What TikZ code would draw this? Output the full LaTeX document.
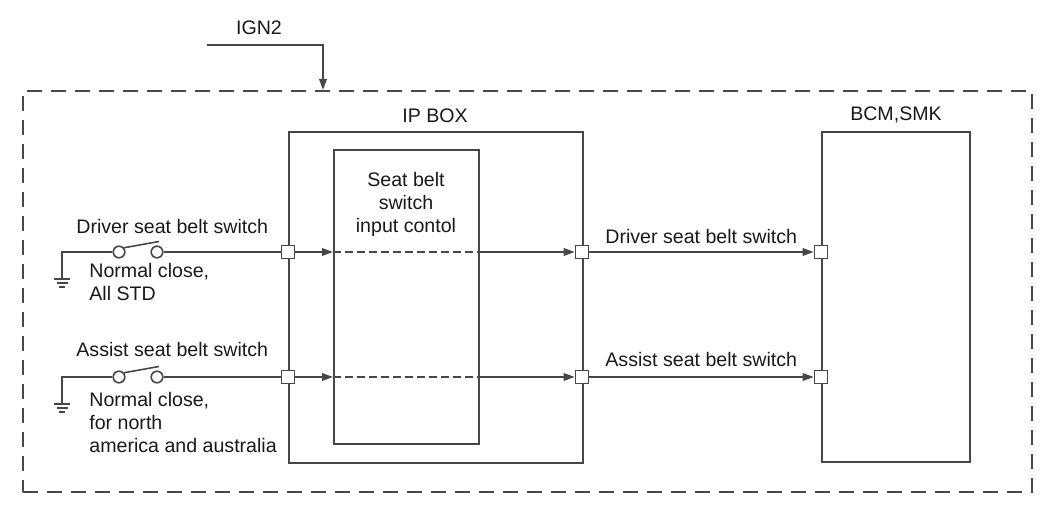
\documentclass[tikz,border=0pt]{standalone}
\usepackage{fontspec}
\setmainfont{Liberation Sans}
\usetikzlibrary{arrows.meta}
\begin{document}
\begin{tikzpicture}[x=0.5pt,y=-0.5pt,
  line/.style={draw=black!72, line width=0.8pt},
  box/.style={line, rectangle, inner sep=0pt, anchor=north west},
  port/.style={line, fill=white, rectangle, minimum size=6.5pt, inner sep=0pt},
  contact/.style={line, fill=white, circle, minimum size=5.8pt, inner sep=0pt},
  arr/.style={line, -{Triangle[length=5.5pt,width=3.8pt]}},
  lbl/.style={inner sep=0pt, font=\fontsize{9.8}{11.5}\selectfont, text=black!90},
  outerdash/.style={line, dash pattern=on 7.5pt off 4.5pt},
  innerdash/.style={line, dash pattern=on 4pt off 2pt}]
\useasboundingbox (0,0) rectangle (1051,506);

% frames
\node[box, outerdash, minimum width=504.5pt, minimum height=200.5pt] (frame) at (22,90) {};
\node[box, minimum width=147pt, minimum height=165.5pt] (ip) at (288,131) {};
\node[box, minimum width=72.5pt, minimum height=147pt] (ctl) at (333,149) {};
\node[box, minimum width=74pt, minimum height=165pt] (bcm) at (821,131) {};

% titles
\node[lbl, anchor=base] (igntitle) at (259,35) {IGN2};
\node[lbl, anchor=base] (iptitle) at (435,123) {IP BOX};
\node[lbl, anchor=base] (bcmtitle) at (896,121) {BCM,SMK};
\node[lbl, anchor=north, align=center] (ctltext) at (406,172) {Seat belt\\switch\\input contol};

% IGN2 feed
\coordinate (ignstart) at (207,45);
\coordinate (ignend) at (323,90);
\draw[arr] (ignstart) -| (ignend);

% ports
\node[port] (pL1) at (288,252) {};
\node[port] (pR1) at (582,252) {};
\node[port] (pB1) at (821,252) {};
\node[port] (pL2) at (288,377) {};
\node[port] (pR2) at (582,377) {};
\node[port] (pB2) at (821,377) {};

% signal paths
\draw[arr] (pL1) -- (ctl.west |- pL1);
\draw[innerdash] (ctl.west |- pL1) -- (ctl.east |- pL1);
\draw[arr] (ctl.east |- pL1) -- (pR1);
\draw[arr] (pR1) -- (pB1);
\draw[arr] (pL2) -- (ctl.west |- pL2);
\draw[innerdash] (ctl.west |- pL2) -- (ctl.east |- pL2);
\draw[arr] (ctl.east |- pL2) -- (pR2);
\draw[arr] (pR2) -- (pB2);

\node[lbl, anchor=base west] (sig1) at (605,244) {Driver seat belt switch};
\node[lbl, anchor=base west] (sig2) at (605,367) {Assist seat belt switch};

% switches
\node[contact] (s1a) at (119,252) {};
\node[contact] (s1b) at (157,252) {};
\node[contact] (s2a) at (119,377) {};
\node[contact] (s2b) at (157,377) {};
\coordinate (g1) at (62,279);
\coordinate (g2) at (62,404);
\coordinate (lev1) at (159,241.5);
\coordinate (lev2) at (159,366.5);
\draw[line] (s1a) -| (g1);
\draw[line] (s1b) -- (pL1);
\draw[line] (s1a.40) -- (lev1);
\draw[line] (s2a) -| (g2);
\draw[line] (s2b) -- (pL2);
\draw[line] (s2a.40) -- (lev2);
\draw[line] (g1) ++(-8,0) -- ++(16,0) (g1) ++(-5.5,4) -- ++(11,0) (g1) ++(-3,8) -- ++(6,0);
\draw[line] (g2) ++(-8,0) -- ++(16,0) (g2) ++(-5.5,4) -- ++(11,0) (g2) ++(-3,8) -- ++(6,0);

\node[lbl, anchor=base west] (sw1) at (76,234) {Driver seat belt switch};
\node[lbl, anchor=north west, align=left] (sw1note) at (89,263) {Normal close,\\All STD};
\node[lbl, anchor=base west] (sw2) at (76,357) {Assist seat belt switch};
\node[lbl, anchor=north west, align=left] (sw2note) at (89,392) {Normal close,\\for north\\america and australia};
\end{tikzpicture}
\end{document}
